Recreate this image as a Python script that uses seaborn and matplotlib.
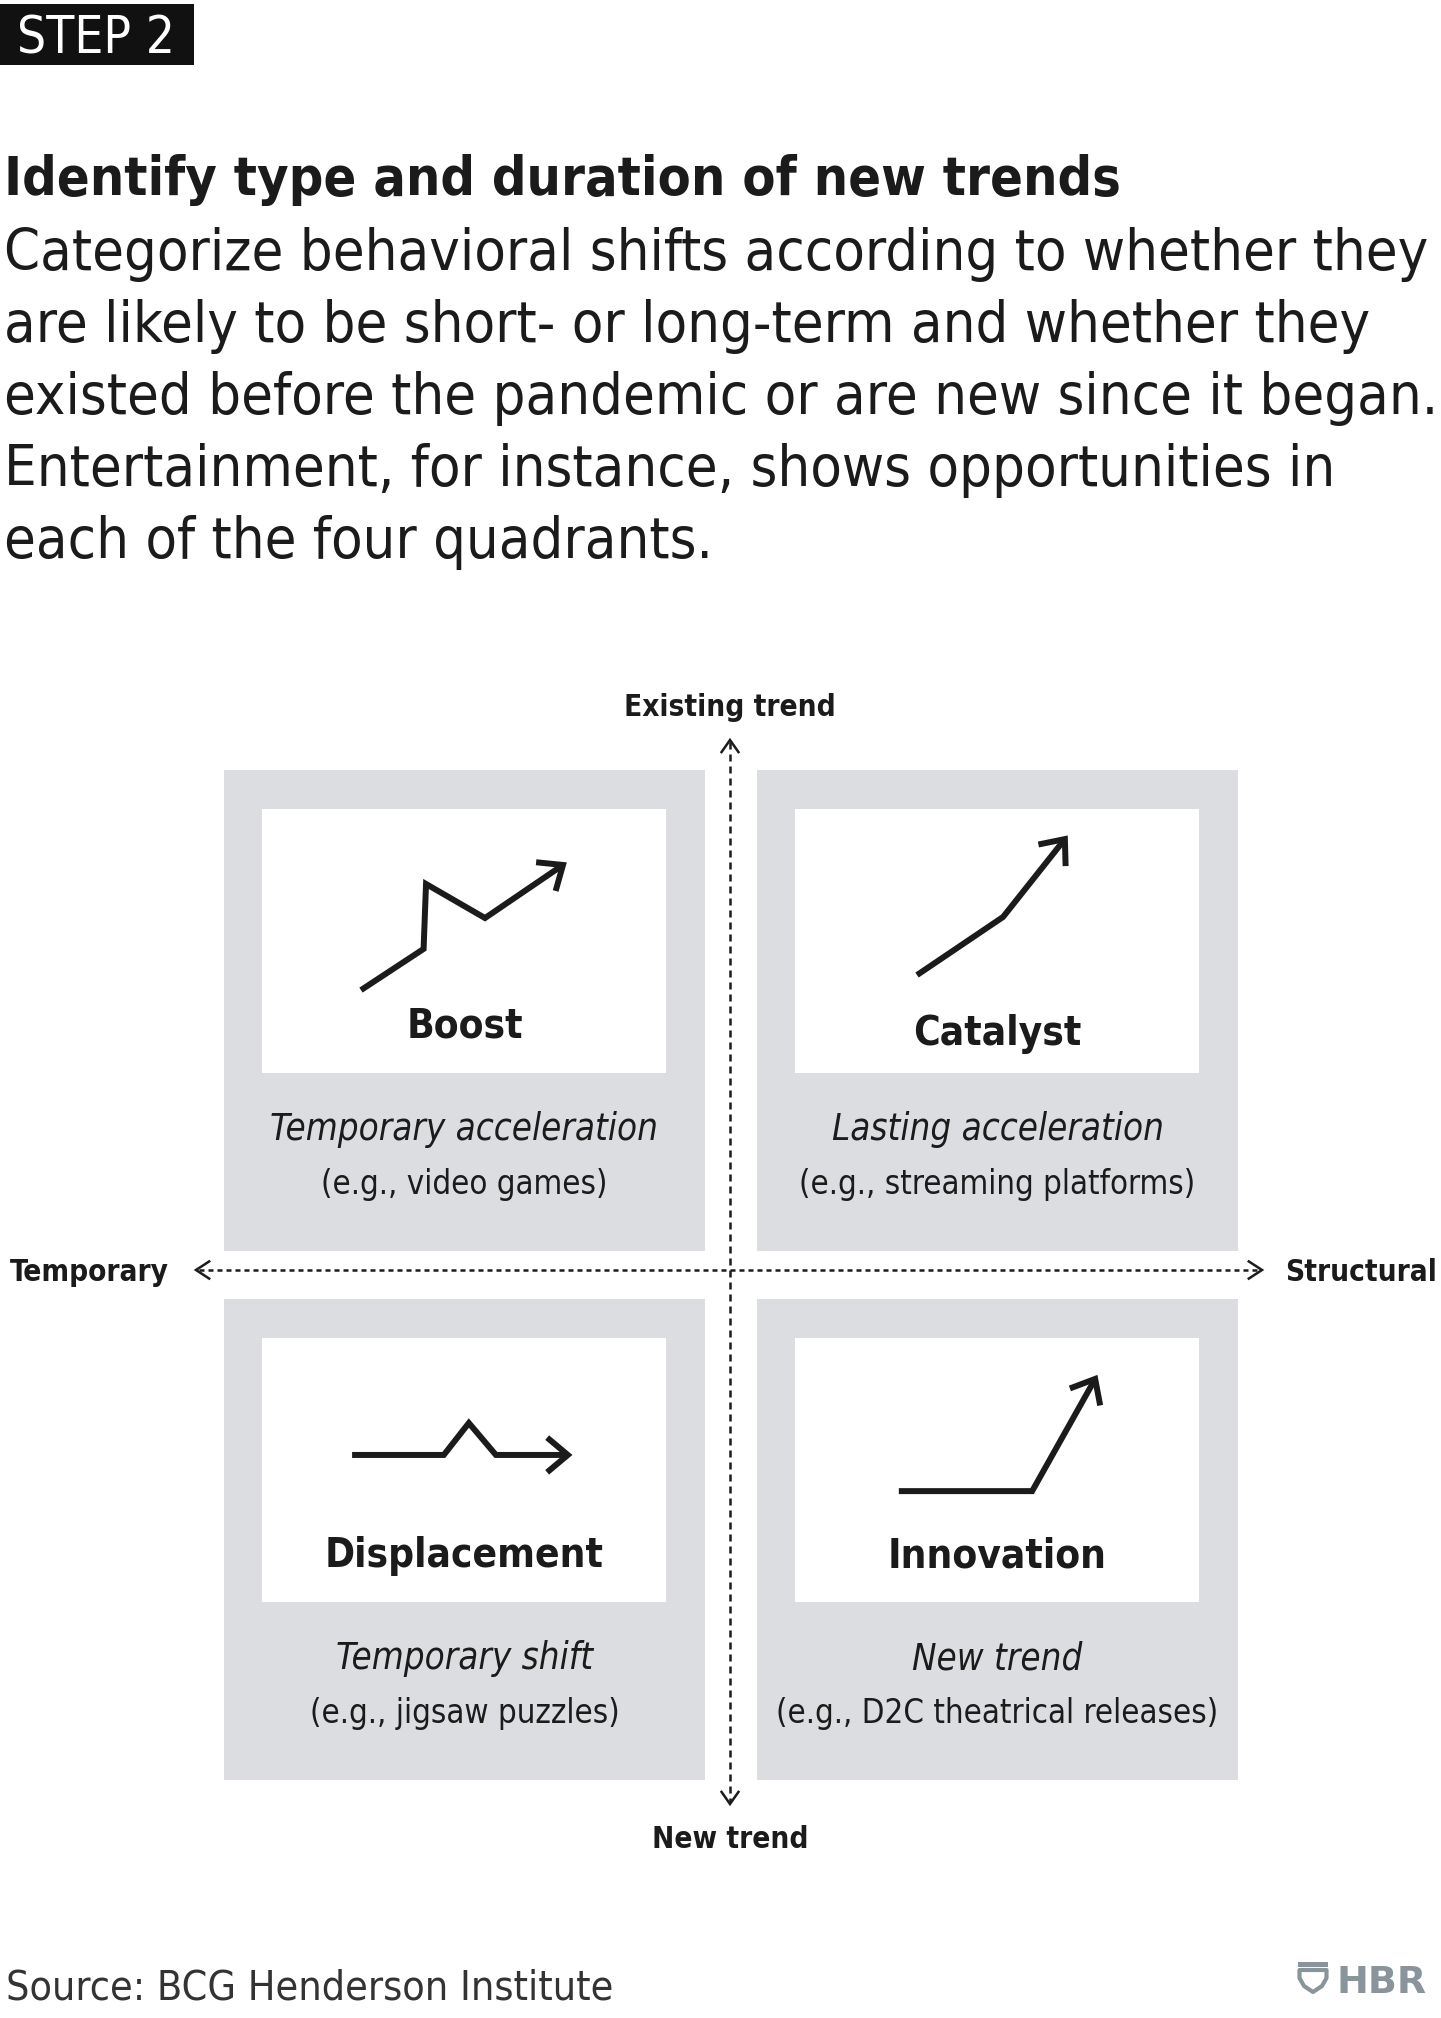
import numpy as np
import pandas as pd
import matplotlib
matplotlib.use("Agg")
import matplotlib.pyplot as plt
from matplotlib import font_manager
from matplotlib.patches import Rectangle, Polygon
import seaborn as sns

W, H = 1441, 2018

# ---- chart content ----
step_label = "STEP 2"
title = "Identify type and duration of new trends"
body_lines = [
    "Categorize behavioral shifts according to whether they",
    "are likely to be short- or long-term and whether they",
    "existed before the pandemic or are new since it began.",
    "Entertainment, for instance, shows opportunities in",
    "each of the four quadrants.",
]
axis_top = "Existing trend"
axis_bottom = "New trend"
axis_left = "Temporary"
axis_right = "Structural"

quad_names = ["Boost", "Catalyst", "Displacement", "Innovation"]
quad_kinds = ["Temporary acceleration", "Lasting acceleration",
              "Temporary shift", "New trend"]
quad_examples = ["(e.g., video games)", "(e.g., streaming platforms)",
                 "(e.g., jigsaw puzzles)", "(e.g., D2C theatrical releases)"]
quad_col = [0, 1, 0, 1]
quad_row = [0, 0, 1, 1]

# pictogram shapes, as fractions of the white card (x right, y down)
icon_x = [[0.245, 0.400, 0.406, 0.552, 0.745],
          [0.302, 0.515, 0.668],
          [0.223, 0.450, 0.512, 0.579, 0.757],
          [0.257, 0.587, 0.743]]
icon_y = [[0.686, 0.530, 0.284, 0.413, 0.212],
          [0.629, 0.409, 0.114],
          [0.443, 0.443, 0.322, 0.443, 0.443],
          [0.580, 0.580, 0.155]]

source = "Source: BCG Henderson Institute"
brand = "HBR"

# ---- style ----
INK = "#1b1b1b"
BOX = "#dcdde0"
LOGO = "#8a949b"

sns.set_theme(style="white")

names = {f.name for f in font_manager.fontManager.ttflist}
cond = any(f.name == "DejaVu Sans" and "condensed" in str(f.stretch)
           for f in font_manager.fontManager.ttflist)
if cond:
    FAM, STRETCH = ["DejaVu Sans"], "condensed"
elif "Liberation Sans Narrow" in names:
    FAM, STRETCH = ["Liberation Sans Narrow", "DejaVu Sans"], "normal"
else:
    FAM, STRETCH = ["DejaVu Sans"], "normal"
plt.rcParams["font.family"] = FAM
plt.rcParams["font.stretch"] = STRETCH

fig = plt.figure(figsize=(W / 100, H / 100), dpi=100)
fig.patch.set_facecolor("white")
ax = fig.add_axes([0, 0, 1, 1])


def txt(x, y, s, **kw):
    kw.setdefault("color", INK)
    kw.setdefault("va", "baseline")
    kw.setdefault("ha", "left")
    return ax.text(x, y, s, fontsize=20, **kw)


# header
ax.add_patch(Rectangle((0, 4), 194, 61, color="#111111", lw=0))
t_step = txt(96, 53, step_label, color="white", ha="center")
t_title = txt(4, 195, title, fontweight="bold")
t_body = [txt(4, 270 + 72 * i, line) for i, line in enumerate(body_lines)]

# quadrant boxes
box_x = [224, 757]
box_y = [770, 1299]
box_w, box_h = 481, 481
card_dx, card_dy, card_w, card_h = 38, 39, 404, 264
name_base = [229, 236, 229, 229]

t_names, t_kinds, t_ex = [], [], []
icon_rows = []
for i in range(4):
    bx, by = box_x[quad_col[i]], box_y[quad_row[i]]
    ax.add_patch(Rectangle((bx, by), box_w, box_h, color=BOX, lw=0, zorder=1))
    cx0, cy0 = bx + card_dx, by + card_dy
    ax.add_patch(Rectangle((cx0, cy0), card_w, card_h, color="white", lw=0, zorder=2))
    mid = bx + box_w / 2
    t_names.append(txt(mid, cy0 + name_base[i], quad_names[i], ha="center",
                       fontweight="bold", zorder=3))
    t_kinds.append(txt(mid, by + 370, quad_kinds[i], ha="center",
                       fontstyle="italic", zorder=3))
    t_ex.append(txt(mid, by + 424, quad_examples[i], ha="center", zorder=3))
    for k, (fx, fy) in enumerate(zip(icon_x[i], icon_y[i])):
        icon_rows.append({"icon": i, "order": k,
                          "x": cx0 + fx * card_w, "y": cy0 + fy * card_h})

icons = pd.DataFrame(icon_rows)
sns.lineplot(data=icons, x="x", y="y", units="icon", estimator=None, sort=False,
             color=INK, linewidth=4.3, solid_joinstyle="miter",
             solid_capstyle="butt", ax=ax, zorder=4)


def chevron(tip, prev, length, angle, lw, color=INK, z=4):
    tip, prev = np.asarray(tip, float), np.asarray(prev, float)
    d = prev - tip
    d /= np.hypot(*d)
    pts = []
    for a in (angle, -angle):
        r = np.radians(a)
        rot = np.array([[np.cos(r), -np.sin(r)], [np.sin(r), np.cos(r)]])
        pts.append(tip + length * rot @ d)
    ax.plot([pts[0][0], tip[0], pts[1][0]], [pts[0][1], tip[1], pts[1][1]],
            color=color, lw=lw, solid_joinstyle="miter", solid_capstyle="butt",
            zorder=z)


for i, g in icons.groupby("icon"):
    g = g.sort_values("order")
    chevron(g[["x", "y"]].iloc[-1], g[["x", "y"]].iloc[-2], 27, 40, 4.3)

# axes of the matrix
vx, hy = 730, 1270
ax.plot([vx, vx], [742, 1802], color=INK, lw=1.8, ls=(0, (2.8, 2.0)), zorder=0)
ax.plot([199, 1259], [hy, hy], color=INK, lw=1.8, ls=(0, (2.0, 1.6)), zorder=0)
chevron((vx, 740), (vx, 800), 16, 35, 1.8, z=0)
chevron((vx, 1804), (vx, 1700), 16, 35, 1.8, z=0)
chevron((196, hy), (260, hy), 17, 33, 1.8, z=0)
chevron((1262, hy), (1200, hy), 17, 33, 1.8, z=0)

t_top = txt(vx, 716, axis_top, ha="center", fontweight="bold")
t_bot = txt(vx, 1848, axis_bottom, ha="center", fontweight="bold")
t_left = txt(10, 1281, axis_left, fontweight="bold")
t_right = txt(1437, 1281, axis_right, ha="right", fontweight="bold")

# footer
t_src = txt(6, 1999, source, color="#333333", fontweight="light")
t_brand = txt(1427, 1993, brand, ha="right", color=LOGO, fontweight="heavy",
              fontstretch="normal")
ax.add_patch(Rectangle((1298, 1962), 30, 5, color=LOGO, lw=0))
shield = [[1299.5, 1970], [1326.5, 1970], [1326.5, 1978], [1322, 1986],
          [1313, 1992], [1304, 1986], [1299.5, 1978]]
ax.add_patch(Polygon(shield, closed=True, fill=False, edgecolor=LOGO, lw=3.0,
                     joinstyle="round"))

ax.set_xlim(0, W)
ax.set_ylim(H, 0)
ax.axis("off")

# size each text class so its widths match the reference
renderer = fig.canvas.get_renderer()


def fit(group, ref, width):
    ref.set_fontsize(20)
    w = ref.get_window_extent(renderer).width
    for t in group:
        t.set_fontsize(20 * width / w)


fit([t_step], t_step, 158)
fit([t_title], t_title, 1118)
fit(t_body, t_body[2], 1431)
fit(t_names, t_names[2], 279)
fit(t_kinds, t_kinds[0], 388)
fit(t_ex, t_ex[3], 442)
fit([t_top, t_bot, t_left, t_right], t_top, 212)
fit([t_src], t_src, 605)
fit([t_brand], t_brand, 90)

fig.savefig("out.png", dpi=100, facecolor="white")
